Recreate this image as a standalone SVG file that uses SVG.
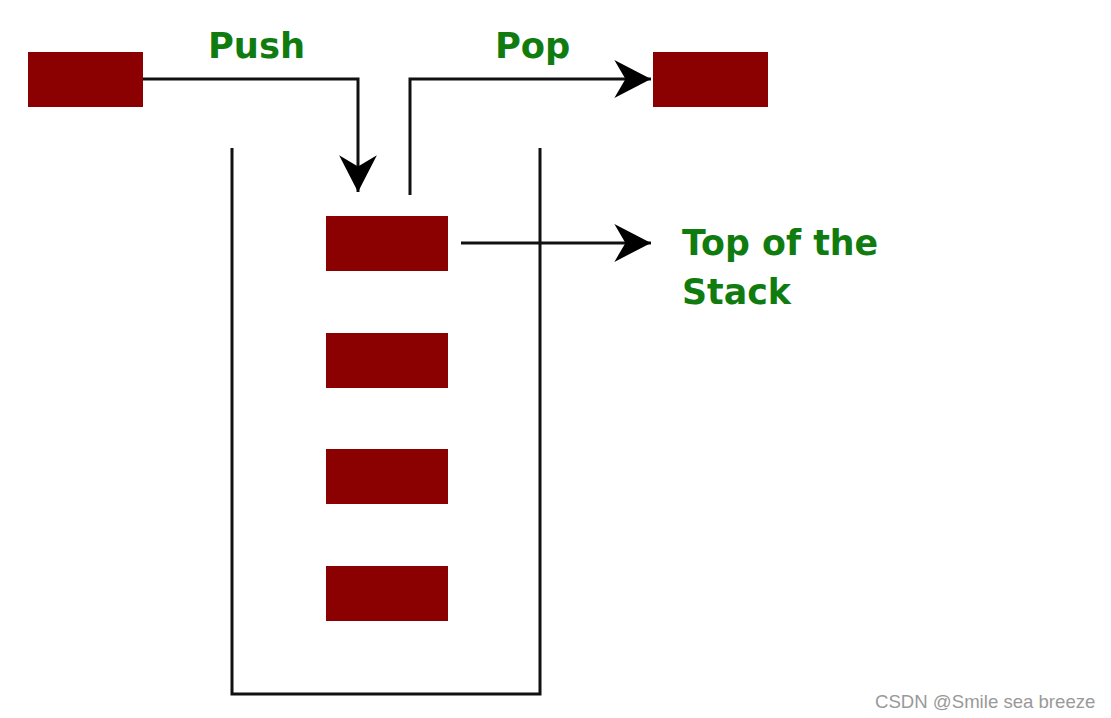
<svg xmlns="http://www.w3.org/2000/svg" width="1111" height="718" viewBox="0 0 1111 718">
<style>
.box{fill:#8b0000;}
.ln{fill:none;stroke:#111;stroke-width:3;}
.lbl{font-family:"DejaVu Sans",Verdana,sans-serif;font-weight:bold;fill:#107c10;}
.wm{font-family:"Liberation Sans",Arial,sans-serif;fill:#999;font-size:18.6px;}
</style>
<defs>
<marker id="ah" markerUnits="userSpaceOnUse" markerWidth="40" markerHeight="40" viewBox="-34 -18 36 36" refX="0" refY="0" orient="auto">
<path d="M0,0 L-33,-17 L-23,0 L-33,17 Z" fill="#000"/>
</marker>
</defs>
<rect width="1111" height="718" fill="#fff"/>
<g id="stack">
<path class="ln" d="M232,148 V694 H540 V148"/>
</g>
<g id="in-item"><rect class="box" x="28" y="52" width="115" height="55"/></g>
<g id="out-item"><rect class="box" x="653" y="52" width="115" height="55"/></g>
<g id="item1"><rect class="box" x="326" y="216" width="122" height="55"/></g>
<g id="item2"><rect class="box" x="326" y="333" width="122" height="55"/></g>
<g id="item3"><rect class="box" x="326" y="449" width="122" height="55"/></g>
<g id="item4"><rect class="box" x="326" y="566" width="122" height="55"/></g>
<g id="connectors">
<path class="ln" d="M143,79 H358 V192" marker-end="url(#ah)"/>
<path class="ln" d="M410,195 V79 H651" marker-end="url(#ah)"/>
<path class="ln" d="M461,243 H651" marker-end="url(#ah)"/>
</g>
<g id="labels">
<text class="lbl" x="208" y="58" font-size="35.3">Push</text>
<text class="lbl" x="495" y="58" font-size="35.3">Pop</text>
<text class="lbl" x="682" y="255" font-size="34.8">Top of the</text>
<text class="lbl" x="682" y="304" font-size="34.8">Stack</text>
</g>
<text class="wm" x="875" y="708">CSDN @Smile sea breeze</text>
</svg>
